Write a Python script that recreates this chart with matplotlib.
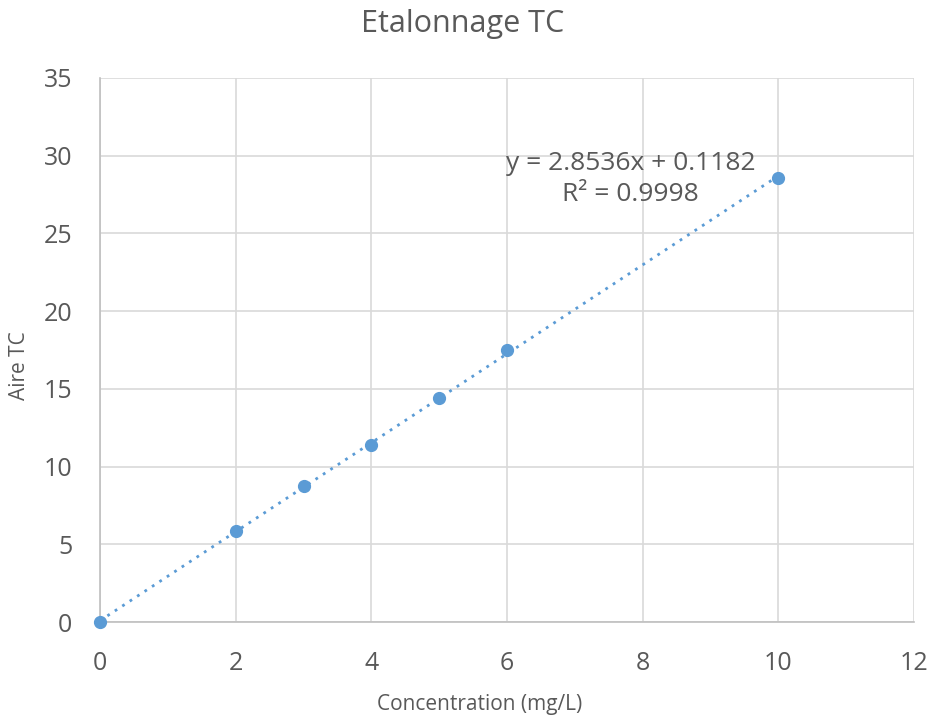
import numpy as np
import matplotlib.pyplot as plt

plt.rcParams['font.family'] = ['Open Sans', 'DejaVu Sans']

conc = [0, 2, 3, 4, 5, 6, 10]
aire = [0.0, 5.85, 8.72, 11.38, 14.4, 17.52, 28.58]

txt = '#595959'
blue = '#5b9bd5'

fig = plt.figure(figsize=(9.29, 7.2), dpi=100)
ax = fig.add_axes([0.1076, 0.1361, 0.8764, 0.7556])

# trendline
a, b = np.polyfit(conc, aire, 1)
xs = np.array([min(conc), max(conc)])
ax.plot(xs, a * xs + b, color=blue, lw=2, ls=(0, (1, 2.2)), zorder=2)
ax.plot(conc, aire, 'o', color=blue, ms=8.5, zorder=3, clip_on=False)

ax.set_xlim(0, 12)
ax.set_ylim(0, 35)
ax.set_xticks(range(0, 13, 2))
ax.set_yticks(range(0, 36, 5))
ax.grid(True, color='#d9d9d9', lw=1.2)
ax.set_axisbelow(True)
for s in ['top', 'right']:
    ax.spines[s].set_visible(False)
for s in ['left', 'bottom']:
    ax.spines[s].set_color('#bfbfbf')
    ax.spines[s].set_linewidth(1.2)
ax.tick_params(length=0, labelsize=18, labelcolor=txt)
ax.tick_params(axis='y', pad=20)
ax.tick_params(axis='x', pad=21)

ax.set_xlabel('Concentration (mg/L)', fontsize=15, color=txt)
ax.set_ylabel('Aire TC', fontsize=15, color=txt)
ax.xaxis.set_label_coords(0.466, -0.133)
ax.yaxis.set_label_coords(-0.086, 0.472)
fig.suptitle('Etalonnage TC', x=0.498, y=0.988, fontsize=22, color=txt)

ax.text(7.82, 28.5, 'y = 2.8536x + 0.1182\nR² = 0.9998', ha='center', va='center',
        fontsize=19, color=txt, linespacing=1.35)

fig.savefig('out.png', dpi=100)
